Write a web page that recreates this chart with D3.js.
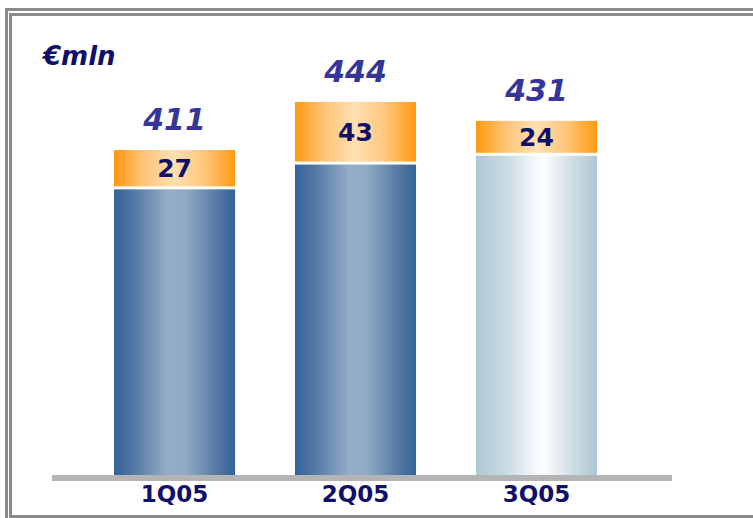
<!DOCTYPE html>
<html>
<head>
<meta charset="utf-8">
<script src="https://cdn.jsdelivr.net/npm/d3@7"></script>
<style>
  body { margin: 0; background: #fff; }
  svg { display: block; }
</style>
</head>
<body>
<svg id="chart"></svg>
<script>
// data
const quarters = ["1Q05", "2Q05", "3Q05"];
const baseValues = [384, 401, 407];
const extraValues = [27, 43, 24];
const totals = [411, 444, 431];
const baseStyle = ["dark", "dark", "light"];

const width = 753, height = 518;
const navy = "#10106b";

const svg = d3.select("#chart")
    .attr("width", width)
    .attr("height", height);

const defs = svg.append("defs");

function hGrad(id, stops) {
  const g = defs.append("linearGradient")
    .attr("id", id)
    .attr("x1", "0%").attr("x2", "100%")
    .attr("y1", "0%").attr("y2", "0%");
  stops.forEach(s => g.append("stop").attr("offset", s[0]).attr("stop-color", s[1]));
}

hGrad("gDark", [["0%", "#336398"], ["15%", "#4f76a3"], ["45%", "#96afc8"], ["60%", "#8fa9c4"], ["88%", "#4f74a0"], ["100%", "#336398"]]);
hGrad("gLight", [["0%", "#adc7d3"], ["25%", "#c9dbe3"], ["55%", "#ffffff"], ["80%", "#cddde5"], ["100%", "#adc7d3"]]);
hGrad("gOrange", [["0%", "#ff9a10"], ["25%", "#ffc57a"], ["50%", "#ffe0b2"], ["75%", "#ffc57a"], ["100%", "#ff9a10"]]);

// frame
svg.append("rect")
  .attr("x", 6.5).attr("y", 9.5)
  .attr("width", 800).attr("height", 560)
  .attr("fill", "none").attr("stroke", "#8a8a8a").attr("stroke-width", 3);
svg.append("rect")
  .attr("x", 10.5).attr("y", 14.5)
  .attr("width", 800).attr("height", 502)
  .attr("fill", "none").attr("stroke", "#8a8a8a").attr("stroke-width", 3);

// scales
const x = d3.scaleBand()
  .domain(quarters)
  .range([114, 597])
  .paddingInner(0.331)
  .paddingOuter(0);

const y = d3.scaleLinear()
  .domain([188, 411])
  .range([475, 150]);

const gap = 3;

const rows = quarters.map((q, i) => ({
  q, base: baseValues[i], extra: extraValues[i], total: totals[i], style: baseStyle[i]
}));

// baseline
svg.append("rect")
  .attr("x", 52).attr("y", 475)
  .attr("width", 620).attr("height", 6)
  .attr("fill", "#b4b4b4");

const bar = svg.selectAll(".bar")
  .data(rows)
  .join("g")
    .attr("class", "bar")
    .attr("transform", d => `translate(${x(d.q)},0)`);

bar.append("rect")
  .attr("y", d => y(d.base))
  .attr("width", x.bandwidth())
  .attr("height", d => y(188) - y(d.base))
  .attr("fill", d => d.style === "dark" ? "url(#gDark)" : "url(#gLight)");

bar.append("rect")
  .attr("y", d => y(d.total))
  .attr("width", x.bandwidth())
  .attr("height", d => y(d.base) - y(d.total) - gap)
  .attr("fill", "url(#gOrange)");

bar.append("text")
  .attr("x", x.bandwidth() / 2)
  .attr("y", d => (y(d.base) - gap + y(d.total)) / 2)
  .attr("dy", "0.36em")
  .attr("text-anchor", "middle")
  .style("font-family", "DejaVu Sans, Verdana, sans-serif")
  .style("font-weight", "bold")
  .style("font-size", "25px")
  .style("fill", navy)
  .text(d => d.extra);

bar.append("text")
  .attr("x", x.bandwidth() / 2)
  .attr("y", d => y(d.total) - 20)
  .attr("text-anchor", "middle")
  .style("font-family", "DejaVu Sans, Verdana, sans-serif")
  .style("font-weight", "bold")
  .style("font-style", "italic")
  .style("font-size", "30px")
  .style("fill", "#35359a")
  .text(d => d.total);

// category axis
const xAxis = d3.axisBottom(x).tickSize(0).tickPadding(0);
const ax = svg.append("g")
  .attr("transform", "translate(0, 486)")
  .call(xAxis);
ax.select(".domain").remove();
ax.selectAll("text")
  .attr("dy", "0.71em")
  .style("font-family", "DejaVu Sans, Verdana, sans-serif")
  .style("font-weight", "bold")
  .style("font-size", "23px")
  .style("fill", navy);

// unit label
svg.append("text")
  .attr("x", 43).attr("y", 65)
  .style("font-family", "DejaVu Sans, Verdana, sans-serif")
  .style("font-weight", "bold")
  .style("font-style", "italic")
  .style("font-size", "26px")
  .style("fill", navy)
  .text("€mln");
</script>
</body>
</html>
